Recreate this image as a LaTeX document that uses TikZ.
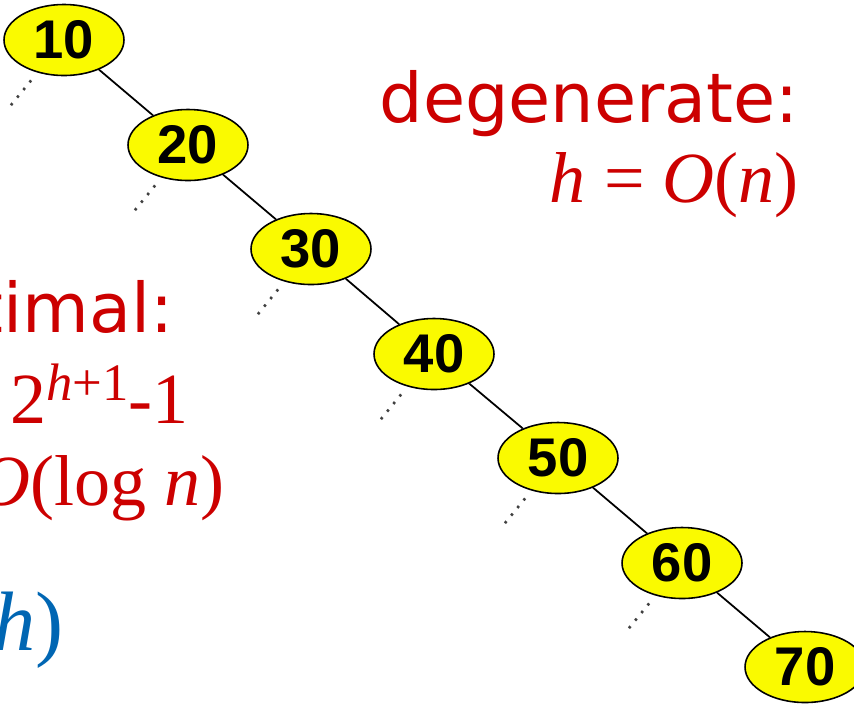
\documentclass[tikz,border=0pt]{standalone}
\usepackage{fontspec}
\usepackage{tikz}
\usetikzlibrary{shapes.geometric}
\newfontfamily\keyfont{Liberation Sans}
\newfontfamily\labelfont{DejaVu Sans}
\newfontfamily\formfont{Liberation Serif}
\definecolor{keyyellow}{RGB}{250,250,0}
\definecolor{boundred}{RGB}{204,0,0}
\definecolor{boundblue}{RGB}{0,102,179}

\begin{document}
\begin{tikzpicture}[
  x=0.02cm, y=-0.02cm,
  key/.style={draw, ellipse, fill=keyyellow, line width=0.9pt, minimum width=2.4cm, minimum height=1.42cm, inner sep=0pt, font=\keyfont\bfseries\fontsize{31}{31}\selectfont},
  link/.style={line width=1pt},
  stub/.style={line width=1.5pt, dash pattern=on 1.4pt off 4.2pt, black!75, shorten <=10*0.02cm},
  word/.style={anchor=base east, inner sep=0pt, text=boundred, font=\labelfont\fontsize{39}{42}\selectfont},
  formula/.style={anchor=base east, inner sep=0pt, text=boundred, font=\formfont\fontsize{41}{44}\selectfont}
]
\useasboundingbox (0,0) rectangle (854,708);
\clip (0,0) rectangle (854,708);

% keys of the degenerate tree
\node[key] (n10) at (64,40)   {10};
\node[key] (n20) at (188,145) {20};
\node[key] (n30) at (311,249) {30};
\node[key] (n40) at (434,354) {40};
\node[key] (n50) at (558,458) {50};
\node[key] (n60) at (682,563) {60};
\node[key] (n70) at (805,667) {70};

% empty left subtrees
\coordinate (l10) at (7,110);
\coordinate (l20) at (131,215);
\coordinate (l30) at (254,319);
\coordinate (l40) at (377,424);
\coordinate (l50) at (501,528);
\coordinate (l60) at (625,633);

\draw[link] (n10) -- (n20);
\draw[link] (n20) -- (n30);
\draw[link] (n30) -- (n40);
\draw[link] (n40) -- (n50);
\draw[link] (n50) -- (n60);
\draw[link] (n60) -- (n70);

\draw[stub] (n10) -- (l10);
\draw[stub] (n20) -- (l20);
\draw[stub] (n30) -- (l30);
\draw[stub] (n40) -- (l40);
\draw[stub] (n50) -- (l50);
\draw[stub] (n60) -- (l60);

% bounds
\node[word]    (deg)  at (799,122) {degenerate:};
\node[formula] (degh) at (799,202) {\itshape h \upshape= \itshape O\upshape(\itshape n\upshape)};
\node[word]    (opt)  at (174,332) {timal:};
\node[formula] (optn) at (189,423) {2\raisebox{13pt}{\fontsize{30}{30}\selectfont\itshape h\upshape+1}-1};
\node[formula] (opth) at (225,505) {\itshape O\upshape(log \itshape n\upshape)};
\node[formula, text=boundblue, font=\formfont\fontsize{48}{50}\selectfont] (cost) at (64,650) {\itshape h\upshape)};
\end{tikzpicture}
\end{document}
